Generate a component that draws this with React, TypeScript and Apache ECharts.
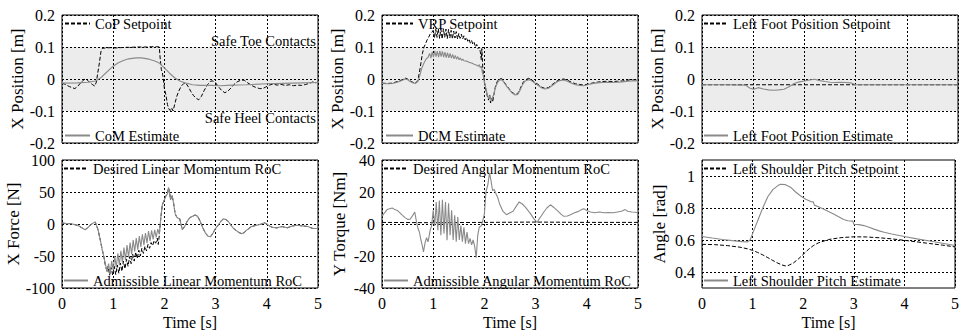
import React, { useEffect, useRef } from "react";
import * as echarts from "echarts";

type P = [number, number];

// ---------- axes ----------
const timeTicks = [0, 1, 2, 3, 4, 5];
const positionTicks = [-0.2, -0.1, 0, 0.1, 0.2];
const forceTicks = [-100, -50, 0, 50, 100];
const torqueTicks = [-40, -20, 0, 20, 40];
const angleTicks = [0.4, 0.6, 0.8, 1];
const angleRange = [0.3, 1.1];
const safeBand = [-0.1, 0.1];

// ---------- top-left: CoP / CoM ----------
const copSetpoint: P[] = [
  [0, -0.013], [0.05, -0.016], [0.1, -0.02], [0.15, -0.024], [0.2, -0.027], [0.25, -0.03], [0.3, -0.024],
  [0.35, -0.015], [0.4, -0.006], [0.45, 0.0], [0.5, -0.004], [0.55, -0.012], [0.6, -0.018], [0.64, -0.022],
  [0.67, -0.01], [0.7, 0.02], [0.73, 0.05], [0.76, 0.085], [0.79, 0.096], [0.85, 0.097], [0.95, 0.098],
  [1.05, 0.097], [1.15, 0.098], [1.25, 0.099], [1.35, 0.099], [1.45, 0.1], [1.55, 0.1], [1.65, 0.1],
  [1.75, 0.101], [1.85, 0.101], [1.9, 0.1], [1.92, 0.06], [1.94, 0.03], [1.96, 0.02], [1.98, 0.0],
  [2.0, -0.03], [2.03, -0.05], [2.06, -0.08], [2.09, -0.095], [2.12, -0.098], [2.14, -0.09], [2.17, -0.1],
  [2.2, -0.08], [2.24, -0.055], [2.28, -0.038], [2.33, -0.022], [2.38, -0.014], [2.42, -0.013], [2.47, -0.025],
  [2.52, -0.04], [2.57, -0.052], [2.62, -0.06], [2.67, -0.065], [2.72, -0.055], [2.78, -0.035], [2.84, -0.018],
  [2.9, -0.007], [2.95, -0.006], [3.0, -0.012], [3.06, -0.025], [3.12, -0.036], [3.18, -0.043], [3.24, -0.038],
  [3.3, -0.028], [3.36, -0.017], [3.42, -0.009], [3.5, -0.003], [3.56, -0.004], [3.62, -0.011], [3.7, -0.02],
  [3.78, -0.026], [3.86, -0.03], [3.92, -0.03], [3.98, -0.025], [4.05, -0.019], [4.12, -0.016], [4.2, -0.019],
  [4.28, -0.017], [4.36, -0.02], [4.44, -0.018], [4.52, -0.021], [4.6, -0.019], [4.68, -0.02], [4.76, -0.017],
  [4.84, -0.013], [4.9, -0.009], [4.95, -0.012], [5.0, -0.01],
];
const comEstimate: P[] = [
  [0, -0.013], [0.3, -0.012], [0.5, -0.01], [0.65, -0.006], [0.75, 0.003], [0.85, 0.018], [1.0, 0.04],
  [1.1, 0.051], [1.2, 0.058], [1.3, 0.063], [1.45, 0.066], [1.55, 0.066], [1.7, 0.062], [1.8, 0.057],
  [1.9, 0.05], [2.0, 0.035], [2.1, 0.018], [2.2, 0.004], [2.3, -0.006], [2.4, -0.012], [2.55, -0.018],
  [2.7, -0.02], [2.9, -0.02], [3.1, -0.021], [3.3, -0.019], [3.6, -0.018], [4.0, -0.015], [4.5, -0.013],
  [5.0, -0.011],
];

// ---------- top-middle: VRP / DCM ----------
const vrpSetpoint: P[] = [
  [0, -0.013], [0.1, -0.014], [0.2, -0.013], [0.3, -0.008], [0.4, -0.002], [0.45, 0.003], [0.5, 0.0],
  [0.55, -0.006], [0.6, -0.01], [0.65, -0.013], [0.7, -0.005], [0.73, 0.02], [0.76, 0.05], [0.79, 0.08],
  [0.82, 0.1], [0.85, 0.11], [0.88, 0.122], [0.91, 0.13], [0.94, 0.14], [0.97, 0.145],
  [1.0, 0.152], [1.025, 0.128], [1.05, 0.155], [1.075, 0.13], [1.1, 0.157], [1.125, 0.127], [1.15, 0.156],
  [1.175, 0.125], [1.2, 0.157], [1.225, 0.13], [1.25, 0.156], [1.275, 0.126], [1.3, 0.155], [1.325, 0.128],
  [1.35, 0.152], [1.375, 0.125], [1.4, 0.15], [1.425, 0.128], [1.45, 0.148], [1.475, 0.125], [1.5, 0.142],
  [1.525, 0.127], [1.55, 0.14], [1.575, 0.125], [1.6, 0.135], [1.625, 0.122], [1.65, 0.13], [1.675, 0.118],
  [1.7, 0.125], [1.725, 0.112], [1.75, 0.12], [1.775, 0.108], [1.8, 0.114], [1.825, 0.1], [1.85, 0.108],
  [1.875, 0.095], [1.9, 0.1], [1.92, 0.085], [1.94, 0.06], [1.95, 0.095], [1.97, 0.03], [2.0, -0.01],
  [2.03, -0.035], [2.06, -0.055], [2.08, -0.066], [2.1, -0.05], [2.12, -0.075], [2.14, -0.06], [2.16, -0.072],
  [2.19, -0.045], [2.22, -0.02], [2.26, -0.005], [2.3, 0.0], [2.34, 0.001], [2.38, -0.008], [2.43, -0.02],
  [2.48, -0.03], [2.53, -0.04], [2.6, -0.048], [2.65, -0.046], [2.7, -0.03], [2.75, -0.012], [2.8, -0.003],
  [2.86, 0.002], [2.9, 0.001], [2.95, -0.006], [3.0, -0.012], [3.06, -0.018], [3.12, -0.026], [3.18, -0.029],
  [3.25, -0.027], [3.32, -0.018], [3.4, -0.008], [3.47, -0.002], [3.55, 0.0], [3.62, -0.004], [3.7, -0.01],
  [3.78, -0.015], [3.86, -0.017], [3.94, -0.019], [4.02, -0.016], [4.1, -0.013], [4.2, -0.01], [4.3, -0.008],
  [4.4, -0.007], [4.5, -0.008], [4.6, -0.007], [4.7, -0.006], [4.8, -0.004], [4.85, -0.002], [4.9, -0.003],
  [5.0, -0.002],
];
const dcmEstimate: P[] = [
  [0, -0.014], [0.1, -0.015], [0.2, -0.014], [0.3, -0.01], [0.4, -0.004], [0.45, 0.0], [0.5, -0.002],
  [0.55, -0.008], [0.6, -0.012], [0.65, -0.014], [0.7, -0.008], [0.74, 0.012], [0.78, 0.035], [0.82, 0.05],
  [0.86, 0.062], [0.9, 0.068], [0.93, 0.08], [0.955, 0.065], [0.98, 0.085], [1.005, 0.068], [1.03, 0.088],
  [1.055, 0.07], [1.08, 0.087], [1.105, 0.068], [1.13, 0.088], [1.155, 0.07], [1.18, 0.086], [1.205, 0.068],
  [1.23, 0.084], [1.255, 0.067], [1.28, 0.082], [1.305, 0.066], [1.33, 0.08], [1.355, 0.065], [1.38, 0.077],
  [1.405, 0.063], [1.43, 0.074], [1.455, 0.062], [1.48, 0.07], [1.505, 0.06], [1.53, 0.066], [1.555, 0.058],
  [1.58, 0.062], [1.6, 0.057], [1.65, 0.056], [1.7, 0.052], [1.75, 0.05], [1.8, 0.046], [1.85, 0.043],
  [1.88, 0.04], [1.9, 0.045], [1.92, 0.035], [1.94, 0.04], [1.96, 0.02], [1.98, 0.01], [2.0, -0.01],
  [2.03, -0.03], [2.06, -0.05], [2.09, -0.062], [2.11, -0.05], [2.13, -0.068], [2.15, -0.06], [2.18, -0.05],
  [2.22, -0.025], [2.26, -0.01], [2.3, -0.003], [2.34, -0.003], [2.38, -0.01], [2.43, -0.022], [2.48, -0.032],
  [2.53, -0.042], [2.6, -0.05], [2.65, -0.048], [2.7, -0.034], [2.75, -0.016], [2.8, -0.006], [2.86, -0.002],
  [2.9, -0.003], [2.95, -0.009], [3.0, -0.015], [3.06, -0.021], [3.12, -0.028], [3.18, -0.031], [3.25, -0.029],
  [3.32, -0.021], [3.4, -0.011], [3.47, -0.005], [3.55, -0.003], [3.62, -0.007], [3.7, -0.013], [3.78, -0.018],
  [3.86, -0.02], [3.94, -0.021], [4.02, -0.018], [4.1, -0.015], [4.2, -0.012], [4.3, -0.011], [4.4, -0.01],
  [4.5, -0.011], [4.6, -0.01], [4.7, -0.009], [4.8, -0.007], [4.9, -0.006], [5.0, -0.005],
];

// ---------- top-right: left foot ----------
const footSetpoint: P[] = [[0, -0.018], [1, -0.018], [2, -0.018], [3, -0.018], [4, -0.018], [5, -0.018]];
const footEstimate: P[] = [
  [0, -0.018], [0.5, -0.018], [0.85, -0.019], [0.93, -0.028], [1.0, -0.032], [1.05, -0.03], [1.1, -0.027],
  [1.2, -0.031], [1.3, -0.034], [1.4, -0.035], [1.5, -0.034], [1.6, -0.032], [1.7, -0.024], [1.8, -0.014],
  [1.9, -0.009], [2.0, -0.006], [2.1, -0.003], [2.2, -0.001], [2.3, -0.005], [2.4, -0.008], [2.5, -0.01],
  [2.6, -0.011], [2.7, -0.01], [2.8, -0.011], [2.9, -0.012], [2.95, -0.015], [3.0, -0.018], [3.5, -0.018],
  [4, -0.018], [4.5, -0.018], [5, -0.018],
];

// ---------- bottom-left: linear momentum rate of change ----------
const linStart: P[] = [
  [0, 1.5], [0.05, 1], [0.1, 0.5], [0.15, 0.8], [0.2, 0], [0.25, -1], [0.3, -2], [0.35, -4], [0.4, -6.5],
  [0.45, -9], [0.5, -6], [0.55, -2], [0.6, 1], [0.65, 3], [0.7, -8], [0.74, -22], [0.78, -38], [0.82, -52],
];
const linDesiredMid: P[] = [
  [0.85, -66], [0.88, -74], [0.9, -66], [0.93, -80], [0.96, -68], [0.99, -80], [1.02, -66], [1.05, -79],
  [1.08, -64], [1.11, -77], [1.14, -61], [1.17, -74], [1.2, -58], [1.23, -70], [1.26, -55], [1.29, -66],
  [1.32, -51], [1.35, -62], [1.38, -47], [1.41, -58], [1.44, -44], [1.47, -54], [1.5, -41], [1.53, -50],
  [1.56, -38], [1.59, -46], [1.62, -35], [1.65, -42], [1.68, -32], [1.71, -38], [1.74, -29], [1.77, -34],
  [1.8, -26], [1.83, -30], [1.86, -22], [1.88, -32], [1.9, -18],
];
const linAdmissibleMid: P[] = [
  [0.85, -63], [0.88, -75], [0.91, -62], [0.94, -78], [0.97, -58], [1.0, -72], [1.03, -50], [1.06, -68],
  [1.09, -46], [1.12, -64], [1.15, -42], [1.18, -60], [1.21, -37], [1.24, -56], [1.27, -33], [1.3, -52],
  [1.33, -29], [1.36, -47], [1.39, -25], [1.42, -43], [1.45, -22], [1.48, -40], [1.51, -19], [1.54, -36],
  [1.57, -16], [1.6, -33], [1.63, -14], [1.66, -30], [1.69, -11], [1.72, -27], [1.75, -10], [1.78, -24],
  [1.81, -9], [1.84, -21], [1.87, -8], [1.9, -16],
];
const linEnd: P[] = [
  [1.93, 10], [1.96, 30], [2.0, 38], [2.03, 44], [2.06, 47], [2.08, 57], [2.1, 50], [2.12, 38], [2.15, 45],
  [2.18, 32], [2.21, 16], [2.24, 11], [2.27, 9], [2.3, 8], [2.35, -9], [2.4, -3], [2.45, 5], [2.5, 10],
  [2.55, 12], [2.6, 14], [2.65, 12], [2.7, 4], [2.75, -6], [2.8, -14], [2.85, -19], [2.9, -20], [2.95, -14],
  [3.0, -7], [3.05, -2], [3.1, 4], [3.15, 8], [3.2, 7], [3.25, 4], [3.3, -2], [3.35, -7], [3.4, -10],
  [3.45, -13], [3.5, -15], [3.55, -14], [3.6, -10], [3.65, -7], [3.7, -4], [3.8, -2], [3.9, 0], [3.95, 2],
  [4.0, 0], [4.05, -3], [4.1, -5], [4.2, -6], [4.3, -4], [4.4, -6], [4.5, -3], [4.6, -2], [4.7, -3],
  [4.8, -4], [4.9, -7], [5.0, -7],
];

// ---------- bottom-middle: angular momentum rate of change ----------
const angDesired: P[] = [[0, 1], [1, 0.8], [2, 1], [3, 1.2], [4, 1], [5, 1]];
const angAdmissible: P[] = [
  [0, 4.8], [0.05, 7], [0.1, 9], [0.15, 9.5], [0.2, 10], [0.25, 9], [0.3, 8.5], [0.35, 7], [0.4, 5.4],
  [0.45, 4], [0.5, 2.9], [0.55, 3], [0.6, 5.4], [0.64, 7.5], [0.67, 2], [0.7, -2.5], [0.73, -5], [0.76, -10],
  [0.79, -14], [0.81, -17.5], [0.84, -12], [0.87, -8.6], [0.9, -11.2], [0.94, -4], [0.97, -1],
  [1.0, 8.6], [1.03, -1.2], [1.06, 13.8], [1.09, -3.9], [1.12, 14.6], [1.15, -7], [1.18, 15.2], [1.21, -6],
  [1.24, 13.8], [1.27, -10.2], [1.3, 13], [1.33, -7], [1.36, 8.6], [1.39, -10], [1.42, 5.4], [1.45, -11],
  [1.48, 4.4], [1.51, -10], [1.54, -0.9], [1.57, -11], [1.6, -2], [1.63, -12.3], [1.66, -5], [1.69, -12.3],
  [1.72, -9], [1.75, -13], [1.78, -10], [1.81, -14], [1.84, -21], [1.87, -7], [1.9, -2], [1.94, -1],
  [1.97, 2.2], [2.0, 6.4], [2.03, 20], [2.07, 25], [2.1, 32], [2.13, 27], [2.16, 20.8], [2.19, 21.7],
  [2.23, 18.6], [2.26, 16.5], [2.3, 12.3], [2.36, 8], [2.43, 5.8], [2.5, 7], [2.56, 8], [2.62, 11],
  [2.68, 13.8], [2.74, 12.5], [2.8, 10.6], [2.9, 6.5], [2.96, 3.5], [3.0, 1.9], [3.03, 1], [3.06, 2.7],
  [3.11, 5], [3.16, 7.5], [3.22, 10], [3.29, 12], [3.35, 10.5], [3.42, 8.5], [3.5, 6], [3.55, 4.8],
  [3.62, 5], [3.68, 5.8], [3.76, 7], [3.84, 7.9], [3.9, 9], [3.94, 9.6], [4.0, 8.5], [4.07, 7.5], [4.15, 7],
  [4.25, 7.5], [4.33, 7], [4.42, 7.2], [4.52, 7], [4.6, 7.5], [4.68, 8], [4.75, 9], [4.8, 8], [4.88, 7.5],
  [4.95, 7.3], [5.0, 7],
];

// ---------- bottom-right: left shoulder pitch ----------
const shoulderSetpoint: P[] = [
  [0, 0.573], [0.25, 0.571], [0.5, 0.565], [0.75, 0.555], [0.9, 0.545], [1.0, 0.535], [1.1, 0.522],
  [1.2, 0.507], [1.3, 0.49], [1.4, 0.472], [1.5, 0.455], [1.6, 0.442], [1.65, 0.438], [1.7, 0.44],
  [1.8, 0.455], [1.9, 0.48], [2.0, 0.51], [2.1, 0.54], [2.2, 0.565], [2.3, 0.582], [2.5, 0.603],
  [2.75, 0.615], [3.0, 0.62], [3.25, 0.619], [3.5, 0.614], [3.75, 0.607], [4.0, 0.598], [4.25, 0.588],
  [4.5, 0.578], [4.75, 0.568], [5.0, 0.557],
];
const shoulderEstimate: P[] = [
  [0, 0.622], [0.2, 0.612], [0.4, 0.603], [0.6, 0.596], [0.8, 0.59], [0.9, 0.588], [0.95, 0.6], [1.0, 0.64],
  [1.1, 0.72], [1.2, 0.8], [1.3, 0.87], [1.4, 0.915], [1.5, 0.94], [1.55, 0.948], [1.65, 0.946],
  [1.75, 0.93], [1.85, 0.9], [1.95, 0.875], [2.05, 0.855], [2.15, 0.84], [2.2, 0.838], [2.22, 0.818],
  [2.3, 0.808], [2.4, 0.793], [2.5, 0.778], [2.6, 0.762], [2.7, 0.745], [2.8, 0.728], [2.88, 0.72],
  [2.98, 0.718], [3.0, 0.698], [3.1, 0.696], [3.2, 0.69], [3.3, 0.68], [3.4, 0.668], [3.5, 0.657],
  [3.6, 0.648], [3.75, 0.637], [4.0, 0.622], [4.25, 0.607], [4.5, 0.594], [4.75, 0.58], [5.0, 0.566],
];

const FONT = "'Liberation Serif', 'Times New Roman', serif";
const GREY = "#8a8a8a";

export default function App() {
  const ref = useRef<HTMLDivElement>(null);

  useEffect(() => {
    document.body.style.margin = "0";
    const chart = echarts.init(ref.current!, null, { renderer: "svg" });

    const cols = [62, 382, 702];
    const rows = [15, 160];
    const W = 256;
    const H = 128;

    const fromTicks = (t: number[]) => ({ min: t[0], max: t[t.length - 1], interval: t[1] - t[0] });

    const panels = [
      { col: 0, row: 0, yName: "X Position [m]", y: fromTicks(positionTicks), band: true,
        set: { name: "CoP Setpoint", data: copSetpoint }, est: { name: "CoM Estimate", data: comEstimate },
        legTop: [64, 25], legBot: [64, 25] },
      { col: 1, row: 0, yName: "X Position [m]", y: fromTicks(positionTicks), band: true,
        set: { name: "VRP Setpoint", data: vrpSetpoint }, est: { name: "DCM Estimate", data: dcmEstimate },
        legTop: [385, 27], legBot: [385, 27] },
      { col: 2, row: 0, yName: "X Position [m]", y: fromTicks(positionTicks), band: true,
        set: { name: "Left Foot Position Setpoint", data: footSetpoint },
        est: { name: "Left Foot Position Estimate", data: footEstimate },
        legTop: [703, 24], legBot: [703, 24] },
      { col: 0, row: 1, yName: "X Force [N]", y: fromTicks(forceTicks), band: false,
        set: { name: "Desired Linear Momentum RoC", data: [...linStart, ...linDesiredMid, ...linEnd] },
        est: { name: "Admissible Linear Momentum RoC", data: [...linStart, ...linAdmissibleMid, ...linEnd] },
        legTop: [63, 24], legBot: [63, 24] },
      { col: 1, row: 1, yName: "Y Torque [Nm]", y: fromTicks(torqueTicks), band: false,
        set: { name: "Desired Angular Momentum RoC", data: angDesired },
        est: { name: "Admissible Angular Momentum RoC", data: angAdmissible },
        legTop: [383, 24], legBot: [383, 24] },
      { col: 2, row: 1, yName: "Angle [rad]", y: { min: angleRange[0], max: angleRange[1] }, band: false,
        custom: angleTicks,
        set: { name: "Left Shoulder Pitch Setpoint", data: shoulderSetpoint },
        est: { name: "Left Shoulder Pitch Estimate", data: shoulderEstimate },
        legTop: [703, 24], legBot: [703, 24] },
    ];

    const txt = { color: "#000", fontFamily: FONT, fontSize: 16 };
    const dotted = { color: "#000", width: 1, type: [2, 2] as number[] };

    const grid = panels.map((p) => ({
      left: cols[p.col], top: rows[p.row], width: W, height: H,
      show: true, borderColor: "#000", borderWidth: 1, backgroundColor: "transparent", z: 2,
    }));

    const xAxis = panels.map((p, i) => ({
      type: "value", gridIndex: i, min: timeTicks[0], max: timeTicks[timeTicks.length - 1],
      interval: timeTicks[1] - timeTicks[0], z: 2,
      axisLine: { show: false }, axisTick: { show: false },
      axisLabel: { show: p.row === 1, ...txt, margin: 7 },
      splitLine: { show: true, lineStyle: dotted },
      name: p.row === 1 ? "Time [s]" : "", nameLocation: "middle", nameGap: 26,
      nameTextStyle: { ...txt },
    }));

    const yAxis = panels.map((p: any, i) => ({
      type: "value", gridIndex: i, ...p.y, z: 2,
      axisLine: { show: false },
      axisTick: p.custom ? { show: false, customValues: p.custom } : { show: false },
      axisLabel: p.custom ? { ...txt, margin: 7, customValues: p.custom } : { ...txt, margin: 7 },
      splitLine: { show: true, lineStyle: dotted },
      name: p.yName, nameLocation: "middle", nameGap: 34, nameRotate: 90,
      nameTextStyle: { ...txt, fontSize: 17 },
    }));

    const series: any[] = [];
    panels.forEach((p, i) => {
      const s: any = {
        type: "line", name: p.set.name, data: p.set.data, xAxisIndex: i, yAxisIndex: i,
        symbol: "none", showSymbol: false, silent: true, z: 3, color: "#000",
        lineStyle: { color: "#000", width: 1, type: [4, 2] },
      };
      if (p.band) {
        s.markArea = {
          silent: true,
          itemStyle: { color: "#ececec" },
          data: [[{ yAxis: safeBand[0] }, { yAxis: safeBand[1] }]],
        };
      }
      series.push(s);
      series.push({
        type: "line", name: p.est.name, data: p.est.data, xAxisIndex: i, yAxisIndex: i,
        symbol: "none", showSymbol: false, silent: true, z: 4, color: GREY,
        lineStyle: { color: GREY, width: 1.1 },
      });
    });

    const legendText = { color: "#000", fontFamily: FONT, fontSize: 14.5 };
    const legend: any[] = [];
    const legBase = { padding: 0, itemHeight: 14, selectedMode: false, textStyle: legendText,
      itemStyle: { opacity: 0 } };
    panels.forEach((p) => {
      const top = rows[p.row];
      legend.push({ ...legBase, data: [p.set.name], left: p.legTop[0], top: top + 1, itemWidth: p.legTop[1] });
      legend.push({ ...legBase, data: [p.est.name], left: p.legBot[0], top: top + H - 15, itemWidth: p.legBot[1] });
    });

    chart.setOption({
      animation: false,
      backgroundColor: "#fff",
      grid,
      xAxis,
      yAxis,
      series,
      legend,
      graphic: [
        {
          type: "text", x: 316, y: 41, z: 10, silent: true,
          style: { text: "Safe Toe Contacts", align: "right", verticalAlign: "middle", fill: "#000",
            fontFamily: FONT, fontSize: 14.5 },
        },
        {
          type: "text", x: 316, y: 118, z: 10, silent: true,
          style: { text: "Safe Heel Contacts", align: "right", verticalAlign: "middle", fill: "#000",
            fontFamily: FONT, fontSize: 14.5 },
        },
      ],
    });

    return () => chart.dispose();
  }, []);

  return <div ref={ref} style={{ width: 962, height: 334 }} />;
}
